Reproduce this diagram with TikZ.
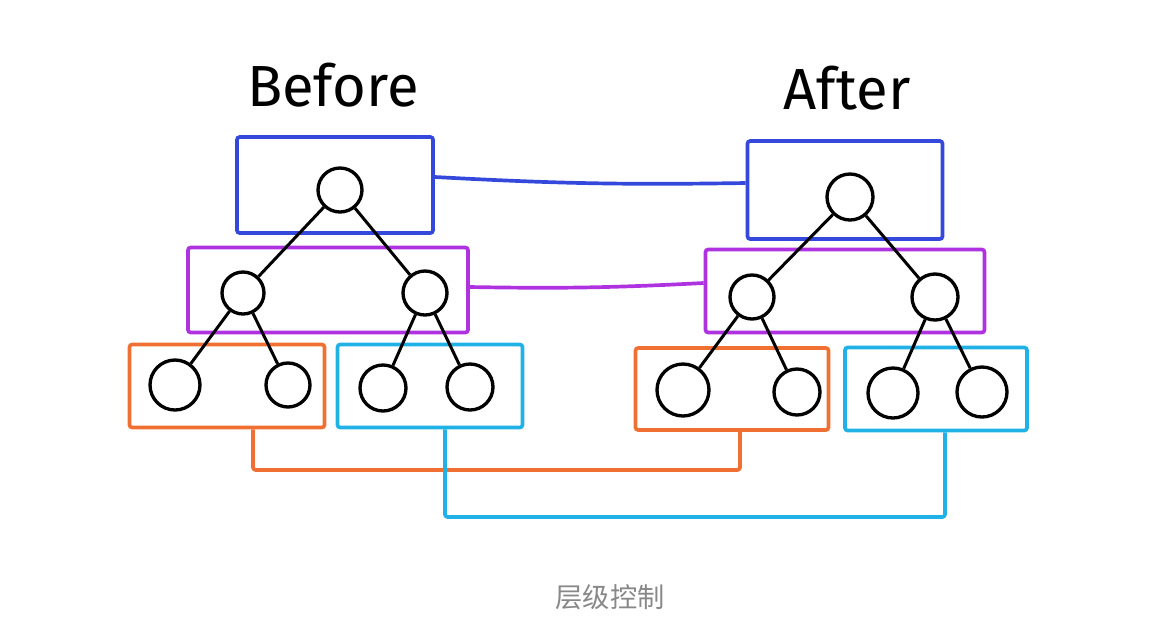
\documentclass[tikz,border=0pt]{standalone}
\usepackage{fontspec}
\usepackage{xcolor}
\usetikzlibrary{positioning}
\newfontfamily\handfont{Fira Sans}
\newfontfamily\cjk{Noto Sans CJK SC}
\definecolor{rootblue}{RGB}{52,72,220}
\definecolor{midpurple}{RGB}{175,50,225}
\definecolor{leaforange}{RGB}{240,112,52}
\definecolor{leafcyan}{RGB}{32,178,230}
\definecolor{captiongray}{RGB}{136,136,136}
\tikzset{
  levelbox/.style={draw=#1, line width=2.1pt, rectangle, inner sep=0pt, rounded corners=1.5pt},
  treenode/.style={draw, circle, line width=1.9pt, inner sep=0pt, minimum size=#1},
  treeedge/.style={line width=1.7pt, black},
  link/.style={line width=2.1pt, draw=#1, line join=round, rounded corners=1.5pt},
  title/.style={font=\handfont\fontsize{33}{38}\selectfont}
}
\begin{document}
\begin{tikzpicture}[x=0.02cm, y=-0.02cm]
  \useasboundingbox (0,0) rectangle (1150,637);

  % Titles
  \node (before) [title] at (333,85) {Before};
  \node (after) [title] at (847,88) {After};

  % Left tree: level boxes
  \node (lb) [levelbox=rootblue, minimum width=3.92cm, minimum height=1.92cm] at (335,185) {};
  \node (lp) [levelbox=midpurple, minimum width=5.6cm, minimum height=1.7cm] at (328,290) {};
  \node (lo) [levelbox=leaforange, minimum width=3.9cm, minimum height=1.66cm] at (227,386) {};
  \node (lc) [levelbox=leafcyan, minimum width=3.7cm, minimum height=1.66cm] at (430,386) {};

  % Left tree: nodes
  \node (l0) [treenode=0.88cm] at (340,190) {};
  \node (l1) [treenode=0.84cm] at (243,293) {};
  \node (l2) [treenode=0.88cm] at (425,293) {};
  \node (l3) [treenode=1.0cm] at (175,385) {};
  \node (l4) [treenode=0.88cm] at (288,385) {};
  \node (l5) [treenode=0.92cm] at (383,388) {};
  \node (l6) [treenode=0.92cm] at (470,387) {};

  % Right tree: level boxes
  \node (rb) [levelbox=rootblue, minimum width=3.9cm, minimum height=1.96cm] at (845,190) {};
  \node (rp) [levelbox=midpurple, minimum width=5.58cm, minimum height=1.66cm] at (845,291) {};
  \node (ro) [levelbox=leaforange, minimum width=3.86cm, minimum height=1.64cm] at (732,389) {};
  \node (rc) [levelbox=leafcyan, minimum width=3.64cm, minimum height=1.66cm] at (936,389) {};

  % Right tree: nodes
  \node (r0) [treenode=0.92cm] at (850,197) {};
  \node (r1) [treenode=0.88cm] at (752,297) {};
  \node (r2) [treenode=0.92cm] at (935,297) {};
  \node (r3) [treenode=1.04cm] at (683,390) {};
  \node (r4) [treenode=0.92cm] at (797,392) {};
  \node (r5) [treenode=1.0cm] at (893,393) {};
  \node (r6) [treenode=1.0cm] at (982,392) {};

  % Tree edges
  \draw[treeedge] (l0) -- (l1);
  \draw[treeedge] (l0) -- (l2);
  \draw[treeedge] (l1) -- (l3);
  \draw[treeedge] (l1) -- (l4);
  \draw[treeedge] (l2) -- (l5);
  \draw[treeedge] (l2) -- (l6);
  \draw[treeedge] (r0) -- (r1);
  \draw[treeedge] (r0) -- (r2);
  \draw[treeedge] (r1) -- (r3);
  \draw[treeedge] (r1) -- (r4);
  \draw[treeedge] (r2) -- (r5);
  \draw[treeedge] (r2) -- (r6);

  % Level links
  \draw[link=rootblue] ([yshift=0.16cm]lb.east) to[bend right=2] ([yshift=0.14cm]rb.west);
  \draw[link=midpurple] ([yshift=0.06cm]lp.east) to[bend right=2] ([yshift=0.16cm]rp.west);
  \coordinate (oa) at (253,470);
  \coordinate (ob) at (740,470);
  \draw[link=leaforange] (lo.south -| oa) -- (oa) -- (ob) -- (ro.south -| ob);
  \coordinate (ca) at (445,517);
  \coordinate (cb) at (945,517);
  \draw[link=leafcyan] (lc.south -| ca) -- (ca) -- (cb) -- (rc.south -| cb);

  % Caption
  \node (caption) [font=\cjk\fontsize{15.5}{18}\selectfont, text=captiongray] at (610,597) {层级控制};
\end{tikzpicture}
\end{document}
